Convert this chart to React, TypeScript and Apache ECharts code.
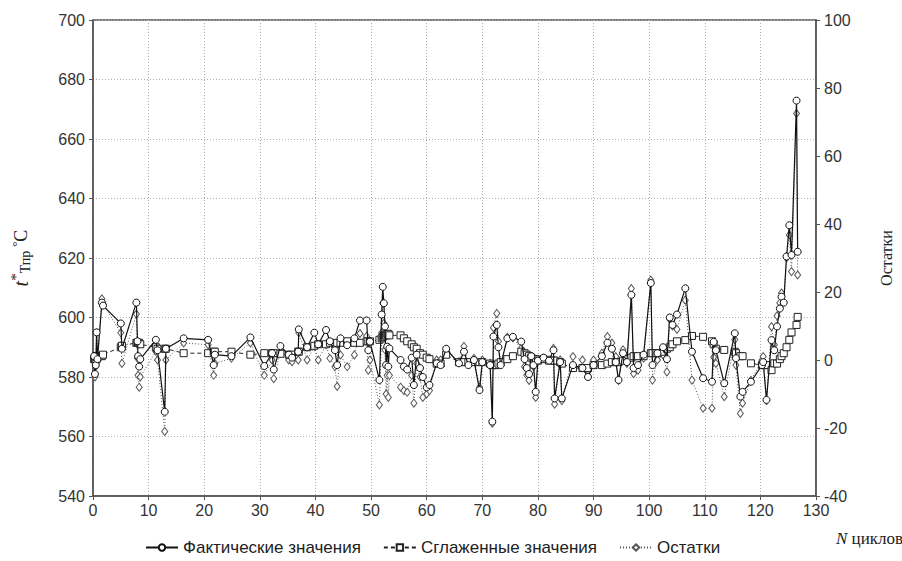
import React, { useEffect, useRef } from "react";
import * as echarts from "echarts";

// N (cycles) for each observation
const cycles = [
  0.2, 0.35, 0.5, 0.65, 0.8, 1.6, 1.8, 5.0, 5.2, 7.8, 8.0, 8.1, 8.3, 8.5, 11.3, 11.6, 12.9, 13.1, 16.3, 20.7,
  21.7, 21.9, 24.9, 28.3, 30.8, 32.2, 32.5, 33.7, 35.2, 35.8, 36.9, 37.0, 38.5, 39.8, 40.5, 41.9, 42.6, 43.5, 43.9, 44.5,
  45.7, 47.0, 48.0, 49.2, 49.5, 49.8, 51.5, 51.9, 52.1, 52.3, 52.5, 52.7, 52.9, 53.1, 53.3, 55.3, 55.9, 56.5, 57.3, 57.7,
  58.2, 58.8, 59.3, 60.0, 60.5, 61.8, 62.5, 63.5, 65.8, 66.7, 67.5, 68.5, 69.5, 70.0, 71.4, 71.8, 72.0, 72.6, 72.9, 73.3,
  74.5, 75.5, 77.0, 77.6, 78.0, 78.4, 78.8, 79.2, 79.6, 80.0, 81.0, 82.0, 82.8, 83.0, 84.0, 84.3, 86.3, 88.0, 89.0, 90.0,
  91.5, 92.5, 93.3, 94.0, 94.5, 95.3, 96.0, 96.8, 97.2, 98.0, 99.0, 100.3, 100.6, 101.5, 102.5, 103.2, 103.7, 104.2, 105.0, 106.5,
  107.7, 109.7, 111.3, 111.6, 112.0, 113.5, 115.4, 115.6, 116.4, 116.8, 118.3, 120.3, 120.5, 121.1, 122.0, 122.5, 123.0, 123.5, 123.8, 124.2,
  124.7, 125.2, 125.6, 126.5, 126.7,
];

// Фактические значения
const actual = [
  587, 581, 584, 595, 586, 605, 604, 598, 589.5, 605, 592, 587, 583.5, 586, 592.5, 589, 568.3, 589.5, 593, 592.5,
  584, 587.5, 587, 593.3, 583.7, 588, 582.5, 590.4, 587.5, 586.5, 588.5, 596, 590, 594.9, 591, 595.8, 592, 589, 584, 593,
  590.7, 593, 599, 599, 589, 591.9, 579, 601, 610.3, 604.8, 597, 584, 590.2, 583.5, 589.6, 585.7, 583.5, 582.5, 586.5, 577.3,
  587.5, 583, 580, 576.5, 577.3, 584.6, 584, 589.5, 584.6, 588.5, 584, 585.7, 575.6, 585, 584, 565, 593.6, 597.5, 590, 584,
  593, 593.5, 591.9, 586, 583, 581, 587, 584, 575, 585.5, 586.5, 585.5, 589, 572.8, 585, 572.8, 584, 583, 580, 584,
  587, 591.5, 589.5, 585, 579, 588, 585, 607.6, 583, 584, 587.5, 611.6, 584, 588, 590, 586, 600, 597.5, 601, 609.8,
  588.5, 579.6, 578.4, 591.8, 589, 577.9, 594.7, 586.3, 573.4, 575, 578.4, 584, 585, 572.3, 592.4, 589, 597, 603, 607, 605,
  620.5, 631, 621, 672.9, 622.1,
];

// Сглаженные значения
const smoothed = [
  586, 586, 586, 587, 586.5, 587, 587.5, 590, 590.5, 591.5, 591.5, 591.5, 591.5, 591, 590, 589.5, 589.5, 589.5, 588, 588,
  588.5, 588.5, 588.5, 587.5, 588, 588, 588, 587.8, 587.5, 587.5, 588.5, 588.5, 590, 590.5, 591, 591, 591.5, 591, 591.5, 591.5,
  592, 591.5, 591.5, 592, 592, 592, 592.5, 593, 593.5, 594, 594, 594, 594.5, 594.5, 594, 594, 593, 592, 591, 590,
  589.5, 588, 587.5, 586.5, 586, 584.5, 584.5, 587.5, 585, 585, 585, 585, 585, 585, 584.5, 584, 584, 584, 584.5, 585,
  586, 587, 588.5, 588, 587.5, 587, 586.5, 586, 586, 585.5, 586, 585.5, 585.5, 585.5, 585, 584.5, 583, 583, 583, 584,
  584, 584.5, 585, 585, 585, 585.5, 586, 586.5, 587, 587, 587, 588, 588, 588, 588.5, 589.5, 590, 591, 592, 592.4,
  593.8, 593.5, 592, 591, 589.5, 589.1, 588.5, 588, 587, 587, 584.6, 584, 584, 584, 582.3, 584.6, 584.5, 586, 587, 588,
  590, 592.5, 595, 597.5, 600.2,
];

// Остатки
const residual = [
  1, -5, -2, 8, -0.5, 18, 16.5, 8, -1, 13.5, 0.5, -4.5, -8, -5, 2.5, 0, -21, 0, 5, 4.5,
  -4.5, -1, 0.5, 5, -4.5, 0, -5.5, 2.5, 0, -0.5, 0, 8, 0, 4, 0, 4.5, 0.5, -2, -7.8, 1.5,
  -2, 1.5, 7.8, 7, -3, 0, -13.2, 8, 16.8, 10.8, 3, -10, -4.5, -11, -4.5, -8, -9, -9.5, -4.5, -12.7,
  -1, -5, -11, -10, -9, 0, 0, 2.9, -0.5, 4, -1, 0.5, -8, 0, -1, -18.6, 9.5, 13.7, 5.5, -1,
  6.7, 6.5, 3.4, -2, -4.5, -6, 0.5, -2, -11, 0, 0.5, 0, 3.4, -13, 0, -12, 1, 0, -3, 0,
  2, 6.9, 5, 1, -6, 3, -1, 21, -4, -3, 0.5, 23.5, -5.9, 0, 1.5, -3.5, 12, 10, 9, 17.6,
  -5.9, -14.2, -14.2, 0.8, -1, -10.8, 6, -1.5, -15.7, -12.7, -6, 0, 1, -12, 9.8, 4.5, 13, 16.8, 19.7, 17,
  30, 36.8, 26, 72.5, 25,
];

const labelFont = "'Liberation Sans', Arial, sans-serif";
const serifFont = "'Liberation Serif', 'Times New Roman', serif";

export default function App() {
  const ref = useRef<HTMLDivElement>(null);

  useEffect(() => {
    if (!ref.current) return;
    const chart = echarts.init(ref.current, undefined, { renderer: "svg" });
    const gridLine = { show: true, lineStyle: { color: "#b0b0b0", type: [1, 2] as any, width: 1 } };
    const axisLine = { show: true, onZero: false, lineStyle: { color: "#555", width: 1.5 } };
    const axisLabel = { color: "#333", fontSize: 16, fontFamily: labelFont };
    chart.setOption({
      animation: false,
      backgroundColor: "#fff",
      grid: {
        left: 88,
        right: 68,
        top: 20,
        bottom: 65,
        containLabel: false,
        show: true,
        borderColor: "#555",
        borderWidth: 1.5,
        backgroundColor: "transparent",
      },
      legend: {
        bottom: 0,
        left: 140,
        itemWidth: 32,
        itemHeight: 8,
        itemGap: 22,
        textStyle: { color: "#222", fontSize: 17, fontFamily: labelFont },
        data: ["Фактические значения", "Сглаженные значения", "Остатки"],
      },
      xAxis: {
        type: "value",
        min: 0,
        max: 130,
        interval: 10,
        axisLine,
        axisTick: { show: true, length: 4, lineStyle: { color: "#555" } },
        axisLabel: { ...axisLabel, margin: 6 },
        splitLine: gridLine,
      },
      yAxis: [
        {
          type: "value",
          min: 540,
          max: 700,
          interval: 20,
          position: "left",
          axisLine,
          axisTick: { show: true, length: 4, lineStyle: { color: "#555" } },
          axisLabel: { ...axisLabel, margin: 8 },
          splitLine: gridLine,
          name: "{t|t}{s|*}{sub|Тпр}{sp| }{deg|°}{c|C}",
          nameLocation: "middle",
          nameRotate: 90,
          nameGap: 60,
          nameTextStyle: {
            color: "#222",
            fontFamily: serifFont,
            rich: {
              t: { fontSize: 20, fontStyle: "italic", fontFamily: serifFont, color: "#222" },
              s: { fontSize: 15, fontFamily: serifFont, color: "#222", verticalAlign: "top", padding: [0, 0, 10, 0] },
              sub: { fontSize: 14, fontFamily: serifFont, color: "#222", padding: [9, 0, 0, 0] },
              sp: { fontSize: 16 },
              deg: { fontSize: 13, fontFamily: serifFont, color: "#222", padding: [0, 0, 9, 0] },
              c: { fontSize: 18, fontFamily: serifFont, color: "#222" },
            },
          },
        },
        {
          type: "value",
          min: -40,
          max: 100,
          interval: 20,
          position: "right",
          axisLine,
          axisTick: { show: true, length: 4, lineStyle: { color: "#555" } },
          axisLabel: { ...axisLabel, margin: 8 },
          splitLine: { show: false },
          name: "Остатки",
          nameLocation: "middle",
          nameRotate: 90,
          nameGap: 62,
          nameTextStyle: { color: "#222", fontSize: 16, fontFamily: serifFont },
        },
      ],
      graphic: [
        {
          type: "text",
          left: 836,
          top: 530,
          style: {
            text: "{n|N}{r| циклов}",
            rich: {
              n: { fontSize: 17, fontStyle: "italic", fontFamily: serifFont, fill: "#222" },
              r: { fontSize: 17, fontFamily: serifFont, fill: "#222" },
            },
          },
        },
      ],
      series: [
        {
          name: "Остатки",
          type: "line",
          yAxisIndex: 1,
          data: cycles.map((x, i) => [x, residual[i]]),
          symbol: "diamond",
          symbolSize: [6, 8],
          itemStyle: { color: "#fff", borderColor: "#555", borderWidth: 1 },
          lineStyle: { color: "#555", width: 1, type: [1, 2] as any },
          z: 2,
        },
        {
          name: "Сглаженные значения",
          type: "line",
          data: cycles.map((x, i) => [x, smoothed[i]]),
          symbol: "rect",
          symbolSize: 7,
          itemStyle: { color: "#fff", borderColor: "#222", borderWidth: 1 },
          lineStyle: { color: "#222", width: 1, type: [4, 3] as any },
          z: 3,
        },
        {
          name: "Фактические значения",
          type: "line",
          data: cycles.map((x, i) => [x, actual[i]]),
          symbol: "circle",
          symbolSize: 7,
          itemStyle: { color: "#fff", borderColor: "#111", borderWidth: 1 },
          lineStyle: { color: "#111", width: 1.2 },
          z: 4,
        },
      ],
    });
    return () => chart.dispose();
  }, []);

  return <div ref={ref} style={{ width: 902, height: 561, position: "absolute", left: 0, top: 0 }} />;
}
